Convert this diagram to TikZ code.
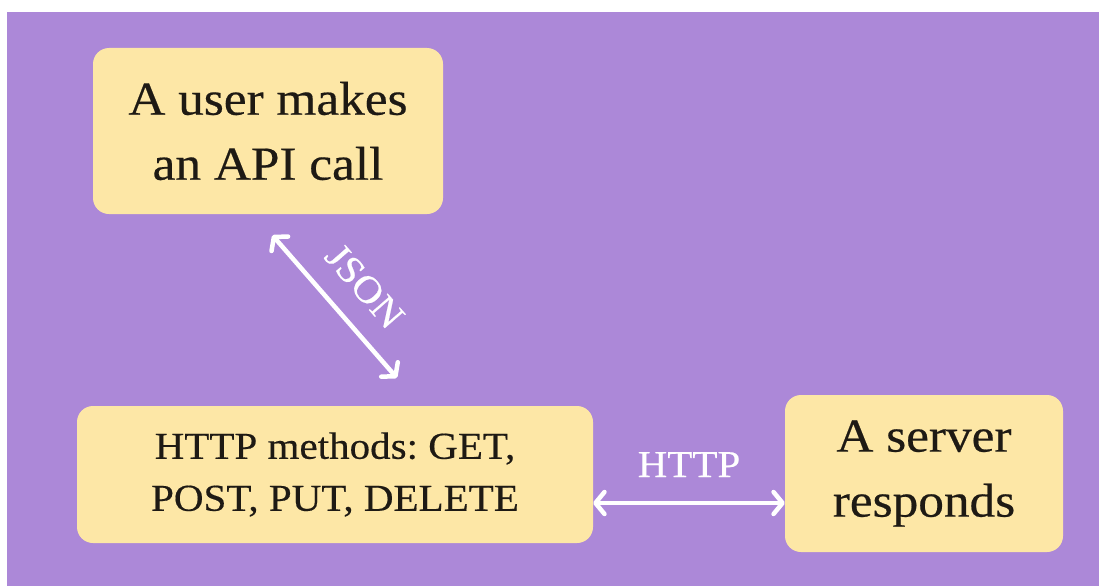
\documentclass[tikz,border=0pt]{standalone}
\usepackage{fontspec}
\setmainfont{Liberation Serif}[FakeStretch=1.08, FakeBold=0.4]
\usetikzlibrary{arrows.meta,calc}
\frenchspacing

\definecolor{bgpurple}{RGB}{172,136,216}
\definecolor{boxyellow}{RGB}{253,231,166}
\definecolor{inkdark}{RGB}{30,26,20}

\tikzset{
  stepbox/.style={fill=boxyellow, rounded corners=16pt, inner sep=0pt,
    align=center, text=inkdark},
  bigtext/.style={font=\fontsize{47.5}{65}\selectfont},
  smalltext/.style={font=\fontsize{38}{52}\selectfont},
  link/.style={draw=white, line width=4.5pt, line cap=round,
    {Straight Barb[round,length=9pt,width=22pt]}-{Straight Barb[round,length=9pt,width=22pt]}},
  linklabel/.style={text=white, inner sep=0pt, font=\fontsize{38}{40}\selectfont},
}

\begin{document}
\begin{tikzpicture}[x=1pt, y=-1pt]
  % page and background panel
  \fill[white] (0,0) rectangle (1099,586);
  \useasboundingbox (0,0) rectangle (1099,586);
  \fill[bgpurple] (7,12) rectangle (1099,586);

  % the three boxes
  \node[stepbox, bigtext, minimum width=350pt, minimum height=166pt]
    (user) at (268,131) {A user makes\\an API call};
  \node[stepbox, smalltext, minimum width=516pt, minimum height=137pt]
    (methods) at (335,474.5) {HTTP methods: GET,\\POST, PUT, DELETE};
  \node[stepbox, bigtext, minimum width=278pt, minimum height=157pt]
    (server) at (924,473.5) {A server\\responds};

  % JSON link between the user box and the methods box
  \coordinate (jtop) at ($(user.south west)!0.46!(user.south east)$);
  \coordinate (jbot) at ($(methods.north west)!0.667!(methods.north east)$);
  \draw[link, shorten <=28pt, shorten >=37pt] (jtop) -- (jbot)
    node[linklabel, midway, sloped, above=21pt] {JSON};

  % HTTP link between the methods box and the server box
  \coordinate (hline) at (0,503);
  \draw[link] (methods.east |- hline) -- (server.west |- hline)
    node[linklabel, midway, anchor=base, yshift=26pt] {HTTP};
\end{tikzpicture}
\end{document}
